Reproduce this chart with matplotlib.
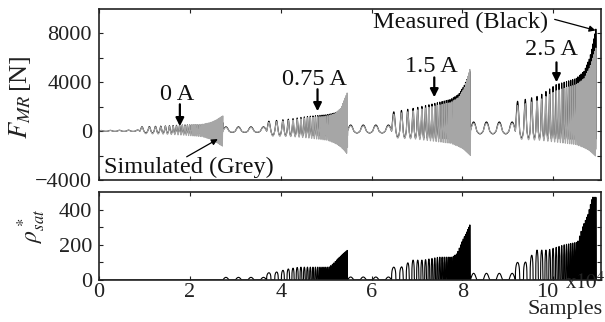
import numpy as np
import matplotlib
matplotlib.use("Agg")
import matplotlib.pyplot as plt
import matplotlib.transforms as mtransforms

plt.rcParams['font.family'] = ['Liberation Serif', 'DejaVu Serif']
plt.rcParams['mathtext.fontset'] = 'stix'

# ---------------- data ----------------
# segment boundaries (samples)
SEG_BOUNDS = [0, 27250, 54700, 81750, 109450]
# end of the slow (low-frequency) part of each segment
SLOW_END = [9000, 36900, 64400, 91650]
SLOW_CYCLES = [4.5, 3.5, 3.5, 3.5]
SLOW_FORCE = [90, 350, 500, 750]          # N, peak of slow humps
SLOW_RHO = [0, 15, 17, 38]                 # rho*_sat of slow humps
# chirp periods (samples) at start / end of the fast part
CHIRP_P0 = [1900, 2000, 2000, 2000]
CHIRP_P1 = [200, 220, 220, 220]

# envelope breakpoints (fraction of the fast part)
ENV_FRAC = [0.0, 0.3, 0.5, 0.75, 0.85, 0.92, 1.0]
MEAS_POS = [[350, 420, 500, 520, 560, 600, 700],
            [800, 1000, 1200, 1350, 1500, 1700, 2300],
            [1550, 1900, 2200, 2600, 3000, 3700, 5000],
            [2400, 2900, 3800, 4300, 4900, 6000, 8500]]
SIM_POS = [[300, 380, 460, 560, 700, 900, 1250],
           [700, 900, 1100, 1250, 1450, 1900, 3200],
           [1350, 1700, 2000, 2350, 2750, 3500, 5200],
           [2050, 2550, 3300, 3800, 4300, 5200, 6900]]
MEAS_NEG = [[150, 170, 200, 220, 250, 280, 350],
            [350, 380, 400, 420, 450, 480, 550],
            [500, 550, 600, 650, 700, 750, 850],
            [550, 600, 650, 700, 750, 800, 900]]
SIM_NEG = [[200, 250, 320, 450, 650, 900, 1250],
           [400, 450, 550, 750, 1000, 1300, 1900],
           [550, 650, 800, 1000, 1250, 1500, 2000],
           [650, 750, 900, 1100, 1350, 1600, 2100]]

RHO_FRAC = [0.0, 0.12, 0.26, 0.4, 0.6, 0.77, 0.83, 0.9, 0.95, 1.0]
RHO_PEAK = [[0, 0, 0, 0, 0, 0, 0, 0, 0, 0],
            [40, 45, 62, 73, 73, 73, 96, 130, 150, 170],
            [73, 73, 113, 113, 130, 130, 150, 225, 270, 320],
            [100, 100, 170, 170, 200, 215, 300, 375, 470, 470]]

X_TICKS = [0, 20000, 40000, 60000, 80000, 100000]
X_TICKLABELS = ['0', '2', '4', '6', '8', '10']
F_TICKS = [-4000, -2000, 0, 2000, 4000, 6000, 8000]
F_TICKLABELS = ['\u22124000', '', '0', '', '4000', '', '8000']
R_TICKS = [0, 100, 200, 300, 400]
R_TICKLABELS = ['0', '', '200', '', '400']

CURRENT_LABELS = ['0 A', '0.75 A', '1.5 A', '2.5 A']
CURRENT_TEXT_XY = [(17100, 3000), (47500, 4250), (73200, 5300), (99600, 6700)]
CURRENT_ARROW_X = [17800, 48100, 73800, 100700]
CURRENT_ARROW_Y = [(2200, 400), (3430, 1630), (4400, 2770), (5630, 4000)]

# ---------------- build signals ----------------
n = SEG_BOUNDS[-1]
t = np.arange(n, dtype=float)
meas = np.zeros(n)
sim = np.zeros(n)
rho = np.zeros(n)

for i in range(4):
    s0, s1 = SEG_BOUNDS[i], SEG_BOUNDS[i + 1]
    se = SLOW_END[i]
    # slow humps
    idx = slice(s0, se)
    u = (t[idx] - s0) / (se - s0)
    ph = 2 * np.pi * SLOW_CYCLES[i] * u
    sn = np.sin(ph)
    grow = 0.6 + 0.4 * u if i == 0 else 1.0
    hump = SLOW_FORCE[i] * grow * (np.clip(sn, 0, None) - 0.3 * np.clip(-sn, 0, None))
    meas[idx] = hump
    sim[idx] = hump * 0.85
    rho[idx] = SLOW_RHO[i] * np.clip(sn, 0, None)
    # fast part (period shrinking)
    idx = slice(se, s1)
    u = (t[idx] - se) / (s1 - se)
    f = (1.0 / CHIRP_P0[i]) * (CHIRP_P0[i] / CHIRP_P1[i]) ** u
    ph = 2 * np.pi * np.cumsum(f)
    sn = np.sin(ph)
    pos = np.clip(sn, 0, None)
    neg = np.clip(-sn, 0, None)
    mp = np.interp(u, ENV_FRAC, MEAS_POS[i])
    sp = np.interp(u, ENV_FRAC, SIM_POS[i])
    mn = np.interp(u, ENV_FRAC, MEAS_NEG[i])
    sng = np.interp(u, ENV_FRAC, SIM_NEG[i])
    meas[idx] = mp * pos ** 1.3 - mn * neg
    sim[idx] = sp * pos ** 1.3 - sng * neg
    rp = np.interp(u, RHO_FRAC, RHO_PEAK[i])
    rho[idx] = rp * pos ** 0.3

# ---------------- figure ----------------
W, H = 605, 322
fig = plt.figure(figsize=(W / 100, H / 100), dpi=100)
ax1 = fig.add_axes([99 / W, 1 - 180 / H, (601 - 99) / W, (180 - 9) / H])
ax2 = fig.add_axes([99 / W, 1 - 280 / H, (601 - 99) / W, (280 - 192) / H])

ax1.plot(t, meas, color='black', lw=0.8)
ax1.plot(t, sim, color='#a6a6a6', lw=0.8)
ax2.plot(t, rho, color='black', lw=0.8)

tick_fs = 16
for ax in (ax1, ax2):
    ax.set_xlim(0, 110500)
    ax.set_xticks(X_TICKS)
    ax.tick_params(direction='in', length=3, width=0.8, top=True, right=True,
                   labelsize=tick_fs, colors='#222222', pad=2)
    for sp_ in ax.spines.values():
        sp_.set_linewidth(1.2)
        sp_.set_color('#222222')

ax1.set_ylim(-4000, 10000)
ax1.set_yticks(F_TICKS)
ax1.set_yticklabels(F_TICKLABELS)
ax1.set_xticklabels([])
ax1.tick_params(axis='y', pad=5)

ax2.set_ylim(0, 500)
ax2.set_yticks(R_TICKS)
ax2.set_yticklabels(R_TICKLABELS)
ax2.set_xticklabels(X_TICKLABELS)
ax2.tick_params(axis='y', pad=5)

# shift the last x tick label ("10") a little to the left, as in the reference
last = ax2.get_xticklabels()[-1]
last.set_transform(last.get_transform() +
                   mtransforms.ScaledTranslation(-6 / 100, 0, fig.dpi_scale_trans))

fig.text(20 / W, 1 - 97 / H, r'$F_{MR}\,$[N]', rotation=90, ha='center', va='center',
         fontsize=19, color='#222222')
fig.text(32 / W, 1 - 226 / H, r'$\rho^*_{sat}$', rotation=90, ha='center', va='center',
         fontsize=17, color='#222222')
fig.text(603 / W, 1 - 319 / H, 'Samples', ha='right', va='bottom', fontsize=16, color='#222222')
fig.text(606 / W, 1 - 294 / H, r'x$10^4$', ha='right', va='bottom', fontsize=15, color='#222222')

ann_fs = 17.5
for lab, (x, y), ax_x, (y0, y1) in zip(CURRENT_LABELS, CURRENT_TEXT_XY, CURRENT_ARROW_X, CURRENT_ARROW_Y):
    ax1.text(x, y, lab, ha='center', va='center', fontsize=ann_fs, color='#111111')
    ax1.annotate('', xy=(ax_x, y1), xytext=(ax_x, y0),
                 arrowprops=dict(arrowstyle='-|>', lw=1.6, color='black', mutation_scale=12,
                                 shrinkA=0, shrinkB=0))

ax1.text(79600, 8900, 'Measured (Black)', ha='center', va='center', fontsize=ann_fs, color='#111111')
ax1.annotate('', xy=(109300, 8250), xytext=(100300, 9150),
             arrowprops=dict(arrowstyle='-|>', lw=0.9, color='black', mutation_scale=9,
                             shrinkA=0, shrinkB=0))
ax1.text(19800, -2950, 'Simulated (Grey)', ha='center', va='center', fontsize=ann_fs, color='#111111')
ax1.annotate('', xy=(26150, -650), xytext=(19300, -2100),
             arrowprops=dict(arrowstyle='-|>', lw=0.9, color='black', mutation_scale=9,
                             shrinkA=0, shrinkB=0))

fig.savefig('out.png', dpi=100)
